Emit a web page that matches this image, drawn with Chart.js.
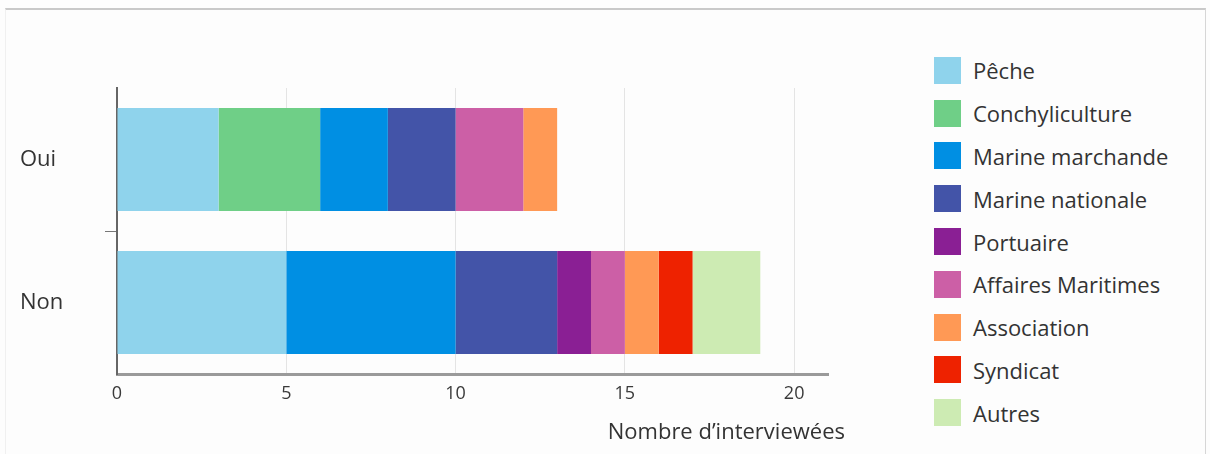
<!DOCTYPE html>
<html lang="fr">
<head>
<meta charset="utf-8">
<title>Nombre d'interviewées</title>
<script src="https://cdn.jsdelivr.net/npm/chart.js@4"></script>
<style>
  html, body { margin: 0; padding: 0; background: #fdfdfd; }
  #page { position: relative; width: 1210px; height: 454px; overflow: hidden; }
  #frame { position: absolute; left: 5px; top: 8px; width: 1199px; height: 460px;
           border-top: 2px solid #c9c9c9; border-right: 1px solid #d6d6d6; border-left: 1px solid #f0f0f0; }
  #chartBox { position: absolute; left: 0; top: 0; width: 900px; height: 454px; }
  #legend { position: absolute; left: 934px; top: 49px; margin: 0; padding: 0; list-style: none;
            font-family: "Open Sans", "Noto Sans", sans-serif; font-size: 22px; color: #333; }
  #legend li { height: 42.8px; display: flex; align-items: center; }
  #legend span.box { width: 27px; height: 27px; margin-right: 12px; display: inline-block; }
  #xTitle { position: absolute; right: 365px; top: 415px; font-family: "Open Sans", "Noto Sans", sans-serif;
            font-size: 22px; color: #333; white-space: nowrap; }
</style>
</head>
<body>
<div id="page">
  <div id="frame"></div>
  <div id="chartBox"><canvas id="chart"></canvas></div>
  <div id="xTitle">Nombre d’interviewées</div>
  <ul id="legend"></ul>
</div>
<script>
// --- Data ---
const answers = ['Oui', 'Non'];
const sectors = ['Pêche', 'Conchyliculture', 'Marine marchande', 'Marine nationale', 'Portuaire',
                 'Affaires Maritimes', 'Association', 'Syndicat', 'Autres'];
const ouiCounts = [3, 3, 2, 2, 0, 2, 1, 0, 0];
const nonCounts = [5, 0, 5, 3, 1, 1, 1, 1, 2];
const sectorColors = ['#8fd3ec', '#6fcf87', '#008fe3', '#4354a8', '#8a1f94',
                      '#cc5fa6', '#ff9955', '#ee2200', '#cdebb3'];
const xTicks = [0, 5, 10, 15, 20];

const font = '"Open Sans", "Noto Sans", sans-serif';

const datasets = sectors.map((name, i) => ({
    label: name,
    data: [ouiCounts[i], nonCounts[i]],
    backgroundColor: sectorColors[i],
    borderWidth: 0,
    categoryPercentage: 1,
    barPercentage: 0.72
}));

new Chart(document.getElementById('chart'), {
    type: 'bar',
    data: { labels: answers, datasets: datasets },
    options: {
        indexAxis: 'y',
        responsive: true,
        maintainAspectRatio: false,
        animation: false,
        layout: { padding: { left: 20, top: 88, right: 72, bottom: 0 } },
        plugins: {
            legend: { display: false },
            tooltip: { enabled: false }
        },
        scales: {
            x: {
                stacked: true,
                min: 0,
                max: 21,
                afterBuildTicks: scale => {
                    scale.ticks = xTicks.map(v => ({ value: v }));
                },
                afterFit: scale => { scale.height = 80; },
                grid: { color: '#e4e4e4', lineWidth: 1, drawTicks: false },
                border: { color: '#9a9a9a', width: 3 },
                ticks: { padding: 9, color: '#3a3a3a', font: { family: font, size: 18 } }
            },
            y: {
                stacked: true,
                afterFit: scale => { scale.width = 97; },
                grid: {
                    drawOnChartArea: false,
                    drawTicks: true,
                    tickLength: 12,
                    color: ctx => ctx.index === 1 ? '#777' : 'rgba(0,0,0,0)'
                },
                border: { color: '#666', width: 2 },
                ticks: { crossAlign: 'far', color: '#333', font: { family: font, size: 22 } }
            }
        }
    }
});

// --- Legend ---
const legendList = document.getElementById('legend');
sectors.forEach((name, i) => {
    const li = document.createElement('li');
    const box = document.createElement('span');
    box.className = 'box';
    box.style.background = sectorColors[i];
    li.appendChild(box);
    li.appendChild(document.createTextNode(name));
    legendList.appendChild(li);
});
</script>
</body>
</html>
